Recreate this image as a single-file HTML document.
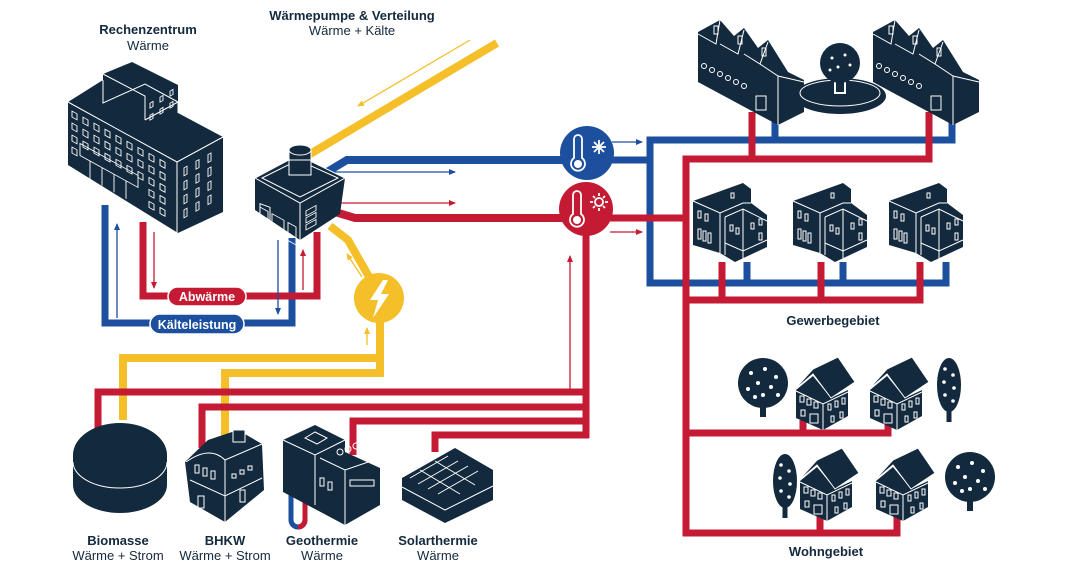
<!DOCTYPE html>
<html><head><meta charset="utf-8"><style>
html,body{margin:0;padding:0;background:#fff;}
svg{display:block;font-family:"Liberation Sans",sans-serif;}
.b{font-weight:bold;font-size:13px;fill:#13293d;}
.n{font-size:13px;fill:#13293d;}
</style></head><body>
<svg width="1079" height="573" viewBox="0 0 1079 573" xmlns="http://www.w3.org/2000/svg">
<defs>
<marker id="ab" markerWidth="8" markerHeight="8" refX="6" refY="3" orient="auto" markerUnits="userSpaceOnUse"><path d="M0,0 L7,3 L0,6 z" fill="#1d4f9f"/></marker>
<marker id="ar" markerWidth="8" markerHeight="8" refX="6" refY="3" orient="auto" markerUnits="userSpaceOnUse"><path d="M0,0 L7,3 L0,6 z" fill="#c41a33"/></marker>
<marker id="ay" markerWidth="8" markerHeight="8" refX="6" refY="3" orient="auto" markerUnits="userSpaceOnUse"><path d="M0,0 L7,3 L0,6 z" fill="#f5bf2a"/></marker>
<g id="gw">
 <polygon points="0,18 50,0 58,6 58,20 74,32 74,64 42,79 27,70 0,62" fill="#13293d"/>
 <g fill="none" stroke="#fff" stroke-width="1">
  <polyline points="0,18 27,30 50,20 58,20"/>
  <polyline points="27,30 27,70"/>
  <polyline points="32,34 50,26 74,38"/>
  <polyline points="50,26 50,79"/>
  <polyline points="32,34 32,72"/>
  <polyline points="32,60 50,68 74,57"/>
  <rect x="5" y="28" width="3" height="7"/><rect x="12" y="31" width="3" height="7"/>
  <rect x="5" y="46" width="3" height="10"/><rect x="10" y="48" width="3" height="10"/><rect x="15" y="50" width="3" height="10"/>
  <rect x="37" y="42" width="3" height="6"/><rect x="43" y="45" width="3" height="6"/>
  <rect x="58" y="40" width="3" height="6"/><rect x="66" y="36" width="3" height="6"/><rect x="66" y="50" width="3" height="7"/>
  <rect x="38" y="10" width="3" height="5"/>
 </g>
</g>
<g id="hs">
 <polygon points="3,30 3,58 30,70 55,56 55,30 38,38 20,16" fill="#13293d"/>
 <polygon points="0,31 20,9 45,-3 62,22 38,38 20,14" fill="#13293d" stroke="#fff" stroke-width="1"/>
 <g fill="none" stroke="#fff" stroke-width="1">
  <polyline points="3,31 30,44 55,32"/><line x1="30" y1="44" x2="30" y2="70"/>
  <rect x="7" y="36" width="4" height="6"/><rect x="14" y="39" width="4" height="6"/><rect x="21" y="42" width="4" height="6"/>
  <rect x="8" y="50" width="4" height="6"/><rect x="17" y="54" width="8" height="9"/>
  <rect x="35" y="44" width="3" height="6"/><rect x="42" y="41" width="3" height="6"/><rect x="49" y="38" width="3" height="6"/>
  <rect x="38" y="56" width="3" height="6"/><rect x="47" y="52" width="3" height="6"/>
 </g>
</g>
<g id="rt">
 <circle cx="0" cy="0" r="25" fill="#13293d"/>
 <rect x="-3" y="18" width="6" height="16" fill="#13293d"/>
 <g fill="#fff"><circle cx="-12" cy="-10" r="2"/><circle cx="2" cy="-14" r="2"/><circle cx="13" cy="-6" r="2"/><circle cx="-5" cy="0" r="2"/><circle cx="8" cy="4" r="2"/><circle cx="-15" cy="6" r="2"/><circle cx="0" cy="12" r="2"/><circle cx="15" cy="12" r="2"/><circle cx="-8" cy="14" r="2"/></g>
</g>
<g id="tt">
 <ellipse cx="0" cy="0" rx="12" ry="27" fill="#13293d"/>
 <rect x="-2.5" y="20" width="5" height="17" fill="#13293d"/>
 <g fill="#fff"><circle cx="-4" cy="-16" r="1.8"/><circle cx="4" cy="-10" r="1.8"/><circle cx="-5" cy="-3" r="1.8"/><circle cx="5" cy="3" r="1.8"/><circle cx="-4" cy="10" r="1.8"/><circle cx="4" cy="16" r="1.8"/></g>
</g>
<g id="fac">
 <path d="M0,40 L0,62 L80,105 L106,92 L106,60 L90,52 L70,20 L60,28 L46,8 L36,16 L22,0 L0,12 Z" fill="#13293d"/>
 <g fill="none" stroke="#fff" stroke-width="1">
  <polyline points="0,14 18,24 22,0"/><polyline points="22,24 40,34 46,10"/><polyline points="46,34 62,44 70,22"/>
  <polyline points="62,44 80,56 106,62"/><line x1="80" y1="56" x2="80" y2="105"/>
  <rect x="16" y="6" width="4" height="8"/><rect x="40" y="16" width="4" height="8"/><rect x="64" y="28" width="4" height="8"/>
  <circle cx="6" cy="46" r="2.5"/><circle cx="14" cy="50" r="2.5"/><circle cx="22" cy="54" r="2.5"/><circle cx="30" cy="58" r="2.5"/><circle cx="38" cy="62" r="2.5"/><circle cx="46" cy="66" r="2.5"/>
  <rect x="58" y="76" width="10" height="14"/>
 </g>
</g>
</defs>

<!-- titles -->
<text x="148" y="34" text-anchor="middle" class="b">Rechenzentrum</text>
<text x="148" y="50" text-anchor="middle" class="n">Wärme</text>
<text x="352" y="20" text-anchor="middle" class="b">Wärmepumpe &amp; Verteilung</text>
<text x="352" y="35" text-anchor="middle" class="n">Wärme + Kälte</text>

<!-- yellow input -->
<line x1="497" y1="43" x2="305" y2="157" stroke="#f5bf2a" stroke-width="8"/>
<line x1="470" y1="40" x2="358" y2="106" stroke="#f5bf2a" stroke-width="1.3" marker-end="url(#ay)"/>

<!-- Abwärme / Kälte loops -->
<polyline points="105,205 105,323 292,323 292,238" fill="none" stroke="#1d4f9f" stroke-width="7"/>
<polyline points="143,222 143,296 317,296 317,232" fill="none" stroke="#c41a33" stroke-width="7"/>
<line x1="117" y1="318" x2="117" y2="224" stroke="#1d4f9f" stroke-width="1.3" marker-end="url(#ab)"/>
<line x1="278" y1="240" x2="278" y2="314" stroke="#1d4f9f" stroke-width="1.3" marker-end="url(#ab)"/>
<line x1="154" y1="232" x2="154" y2="288" stroke="#c41a33" stroke-width="1.3" marker-end="url(#ar)"/>
<line x1="303" y1="290" x2="303" y2="250" stroke="#c41a33" stroke-width="1.3" marker-end="url(#ar)"/>
<rect x="168" y="287" width="78" height="19" rx="9.5" fill="#c41a33" stroke="#fff" stroke-width="1.5"/>
<text x="207" y="301" text-anchor="middle" font-size="12.5" font-weight="bold" fill="#fff">Abwärme</text>
<rect x="150" y="314" width="94" height="20" rx="10" fill="#1d4f9f" stroke="#fff" stroke-width="1.5"/>
<text x="197" y="329" text-anchor="middle" font-size="12.5" font-weight="bold" fill="#fff">Kälteleistung</text>

<!-- Rechenzentrum building -->
<polygon points="68,102 103,80 103,74 132,62 178,85 178,113 223,137 223,212 178,233 68,165" fill="#13293d"/>
<g fill="none" stroke="#fff" stroke-width="1">
 <polyline points="68,102 177,162 223,137"/><line x1="177" y1="162" x2="177" y2="233"/>
 <polyline points="103,80 103,103 145,84 178,102"/><polyline points="103,74 145,96 145,120"/>
 <polyline points="145,120 178,102 178,113"/>
</g>
<g transform="matrix(1,0.55,0,1,70,108)" fill="none" stroke="#fff" stroke-width="0.9">
 <rect x="2" y="2" width="5" height="6"/><rect x="13" y="2" width="5" height="6"/><rect x="24" y="2" width="5" height="6"/><rect x="35" y="2" width="5" height="6"/><rect x="46" y="2" width="5" height="6"/><rect x="57" y="2" width="5" height="6"/><rect x="68" y="2" width="5" height="6"/><rect x="79" y="2" width="5" height="6"/><rect x="90" y="2" width="5" height="6"/>
 <rect x="2" y="14" width="5" height="6"/><rect x="13" y="14" width="5" height="6"/><rect x="24" y="14" width="5" height="6"/><rect x="35" y="14" width="5" height="6"/><rect x="46" y="14" width="5" height="6"/><rect x="57" y="14" width="5" height="6"/><rect x="68" y="14" width="5" height="6"/><rect x="79" y="14" width="5" height="6"/><rect x="90" y="14" width="5" height="6"/>
 <rect x="2" y="26" width="5" height="6"/><rect x="13" y="26" width="5" height="6"/><rect x="24" y="26" width="5" height="6"/><rect x="35" y="26" width="5" height="6"/><rect x="46" y="26" width="5" height="6"/><rect x="57" y="26" width="5" height="6"/><rect x="68" y="26" width="5" height="6"/><rect x="79" y="26" width="5" height="6"/><rect x="90" y="26" width="5" height="6"/>
 <rect x="2" y="38" width="5" height="6"/><rect x="79" y="38" width="5" height="6"/><rect x="90" y="38" width="5" height="6"/>
 <rect x="79" y="50" width="5" height="6"/><rect x="90" y="50" width="5" height="6"/>
 <rect x="10" y="30" width="58" height="12"/>
 <line x1="20" y1="42" x2="20" y2="60"/><line x1="32" y1="42" x2="32" y2="60"/><line x1="44" y1="42" x2="44" y2="60"/><line x1="56" y1="42" x2="56" y2="60"/>
</g>
<g transform="matrix(1,-0.55,0,1,180,170)" fill="none" stroke="#fff" stroke-width="0.9">
 <rect x="4" y="0" width="3" height="8"/><rect x="16" y="0" width="3" height="8"/><rect x="28" y="0" width="3" height="8"/>
 <rect x="4" y="14" width="3" height="8"/><rect x="16" y="14" width="3" height="8"/><rect x="28" y="14" width="3" height="8"/>
 <rect x="4" y="28" width="3" height="8"/><rect x="16" y="28" width="3" height="8"/><rect x="28" y="28" width="3" height="8"/>
 <rect x="4" y="42" width="3" height="8"/><rect x="16" y="42" width="3" height="8"/><rect x="28" y="42" width="3" height="8"/>
</g>
<g transform="matrix(1,-0.6,0,1,147,103)" fill="none" stroke="#fff" stroke-width="0.9">
 <rect x="3" y="2" width="3" height="5"/><rect x="13" y="2" width="3" height="5"/><rect x="23" y="2" width="3" height="5"/>
 <rect x="3" y="14" width="3" height="5"/><rect x="13" y="14" width="3" height="5"/><rect x="23" y="14" width="3" height="5"/>
</g>

<!-- heat pump output lines -->
<polyline points="327,172 347,160 588,160" fill="none" stroke="#1d4f9f" stroke-width="8"/>
<polyline points="335,212 355,218 586,218" fill="none" stroke="#c41a33" stroke-width="8"/>
<line x1="332" y1="172" x2="455" y2="172" stroke="#1d4f9f" stroke-width="1.3" marker-end="url(#ab)"/>
<line x1="332" y1="203" x2="455" y2="203" stroke="#c41a33" stroke-width="1.3" marker-end="url(#ar)"/>
<polyline points="330,226 348,240 372,282" fill="none" stroke="#f5bf2a" stroke-width="8"/>
<line x1="362" y1="277" x2="347" y2="254" stroke="#f5bf2a" stroke-width="1.3" marker-end="url(#ay)"/>

<!-- heat pump -->
<polygon points="255,178 298,155 345,178 340,214 300,240 255,210" fill="#13293d"/>
<g fill="none" stroke="#fff" stroke-width="1">
 <polygon points="255,178 298,155 345,178 300,203"/>
 <polygon points="262,178 298,160 338,178 300,197"/>
 <line x1="300" y1="203" x2="300" y2="240"/>
 <rect x="260" y="204" width="10" height="20" transform="skewY(20) translate(0,-95)"/>
</g>
<g transform="matrix(1,0.55,0,1,258,206)" fill="none" stroke="#fff" stroke-width="0.9">
 <rect x="2" y="0" width="8" height="18"/><rect x="14" y="0" width="12" height="20"/><rect x="30" y="0" width="8" height="18"/>
</g>
<g transform="matrix(1,-0.55,0,1,304,230)" fill="none" stroke="#fff" stroke-width="0.9">
 <rect x="2" y="-18" width="10" height="5"/><rect x="2" y="-11" width="10" height="5"/><rect x="2" y="-4" width="10" height="5"/>
</g>
<rect x="289" y="150" width="22" height="25" fill="#13293d" stroke="#fff" stroke-width="1"/>
<ellipse cx="300" cy="150" rx="11" ry="5" fill="#13293d" stroke="#fff" stroke-width="1"/>
<line x1="289" y1="160" x2="311" y2="160" stroke="#fff" stroke-width="1"/>

<!-- lightning -->
<polyline points="380,322 380,373" stroke="#f5bf2a" stroke-width="8" fill="none"/>
<circle cx="379" cy="298" r="25" fill="#f5bf2a"/>
<polygon points="383,280 370,300 378,300 373,318 389,294 381,294 388,280" fill="#fff"/>
<line x1="367" y1="345" x2="367" y2="328" stroke="#f5bf2a" stroke-width="1.3" marker-end="url(#ay)"/>

<!-- yellow bottom -->
<polyline points="123,420 123,358 384,358" fill="none" stroke="#f5bf2a" stroke-width="8"/>
<polyline points="225,437 225,373 384,373" fill="none" stroke="#f5bf2a" stroke-width="8"/>

<!-- red bottom collectors -->
<g fill="none" stroke="#c41a33" stroke-width="7">
 <polyline points="98,428 98,392 589,392"/>
 <polyline points="202,448 202,407 589,407"/>
 <polyline points="353,455 353,421 589,421"/>
 <polyline points="435,452 435,435 589,435"/>
 <line x1="586" y1="232" x2="586" y2="438"/>
</g>
<line x1="570" y1="390" x2="570" y2="256" stroke="#c41a33" stroke-width="1.3" marker-end="url(#ar)"/>

<!-- Biomasse -->
<path d="M73,455 L73,485 A47,28 0 0 0 167,485 L167,455 Z" fill="#13293d"/>
<ellipse cx="120" cy="455" rx="47" ry="32" fill="#13293d"/>
<path d="M73,462 A47,26 0 0 0 167,462" fill="none" stroke="#fff" stroke-width="1"/>

<!-- BHKW -->
<polygon points="185,462 208,440 238,430 262,444 264,490 225,522 190,502" fill="#13293d"/>
<g fill="none" stroke="#fff" stroke-width="1">
 <path d="M186,462 Q210,445 225,460 L262,444"/>
 <polyline points="190,480 225,496 262,478"/>
 <line x1="225" y1="460" x2="225" y2="522"/>
 <rect x="195" y="465" width="4" height="8"/><rect x="203" y="468" width="4" height="8"/><rect x="211" y="471" width="4" height="8"/>
 <rect x="232" y="474" width="4" height="4"/><rect x="240" y="470" width="4" height="4"/><rect x="248" y="466" width="4" height="4"/>
 <rect x="198" y="496" width="6" height="12"/><rect x="240" y="490" width="5" height="12"/>
</g>
<rect x="233" y="430" width="12" height="12" fill="#13293d" stroke="#fff" stroke-width="1"/>

<!-- Geothermie -->
<path d="M291,478 L291,520 A7,7 0 0 0 305,520 L305,478" fill="none" stroke="#1d4f9f" stroke-width="5"/>
<path d="M298,527 A7,7 0 0 0 305,520 L305,478" fill="none" stroke="#c41a33" stroke-width="5"/>
<polygon points="283,440 315,425 345,440 345,452 380,468 380,505 345,525 283,492" fill="#13293d"/>
<g fill="none" stroke="#fff" stroke-width="1">
 <polyline points="283,440 315,455 345,440"/><line x1="315" y1="455" x2="315" y2="505"/>
 <polygon points="305,438 315,432 327,438 317,444"/>
 <polyline points="320,458 345,470 380,458"/><line x1="345" y1="470" x2="345" y2="525"/>
 <circle cx="340" cy="452" r="3"/><circle cx="348" cy="449" r="3"/><circle cx="356" cy="446" r="3"/>
 <rect x="350" y="480" width="24" height="6"/><rect x="320" y="478" width="4" height="8"/><rect x="328" y="482" width="4" height="8"/>
</g>

<!-- Solarthermie -->
<polygon points="402,478 455,448 493,470 493,500 445,523 402,500" fill="#13293d"/>
<g stroke="#fff" stroke-width="1" fill="none">
 <line x1="410" y1="478" x2="448" y2="456"/><line x1="418" y1="484" x2="458" y2="461"/><line x1="428" y1="489" x2="468" y2="466"/><line x1="438" y1="494" x2="478" y2="471"/>
 <line x1="420" y1="470" x2="460" y2="494"/><line x1="435" y1="461" x2="475" y2="485"/>
 <polyline points="402,487 445,510 493,486"/>
</g>

<text x="118" y="545" text-anchor="middle" class="b">Biomasse</text>
<text x="118" y="560" text-anchor="middle" class="n">Wärme + Strom</text>
<text x="225" y="545" text-anchor="middle" class="b">BHKW</text>
<text x="225" y="560" text-anchor="middle" class="n">Wärme + Strom</text>
<text x="322" y="545" text-anchor="middle" class="b">Geothermie</text>
<text x="322" y="560" text-anchor="middle" class="n">Wärme</text>
<text x="438" y="545" text-anchor="middle" class="b">Solarthermie</text>
<text x="438" y="560" text-anchor="middle" class="n">Wärme</text>

<!-- right network -->
<g fill="none" stroke-width="7">
 <polyline points="588,160 650,160" stroke="#1d4f9f"/>
 <polyline points="775,120 775,140 650,140 650,283 946,283 946,262" stroke="#1d4f9f"/>
 <polyline points="952,120 952,140 775,140" stroke="#1d4f9f"/>
 <line x1="747" y1="262" x2="747" y2="283" stroke="#1d4f9f"/>
 <line x1="843" y1="262" x2="843" y2="283" stroke="#1d4f9f"/>
 <polyline points="586,218 686,218" stroke="#c41a33"/>
 <polyline points="752,112 752,159 686,159 686,533 897,533 897,512" stroke="#c41a33"/>
 <polyline points="929,112 929,159 752,159" stroke="#c41a33"/>
 <polyline points="686,300 920,300 920,262" stroke="#c41a33"/>
 <line x1="722" y1="262" x2="722" y2="300" stroke="#c41a33"/>
 <line x1="821" y1="262" x2="821" y2="300" stroke="#c41a33"/>
 <polyline points="686,433 888,433 888,420" stroke="#c41a33"/>
 <line x1="803" y1="420" x2="803" y2="433" stroke="#c41a33"/>
 <line x1="820" y1="512" x2="820" y2="533" stroke="#c41a33"/>
</g>
<line x1="612" y1="142" x2="642" y2="142" stroke="#1d4f9f" stroke-width="1.3" marker-end="url(#ab)"/>
<line x1="610" y1="232" x2="642" y2="232" stroke="#c41a33" stroke-width="1.3" marker-end="url(#ar)"/>

<!-- thermometer circles -->
<circle cx="587" cy="153" r="27" fill="#1d4f9f"/>
<circle cx="586" cy="209" r="27" fill="#c41a33"/>
<g fill="none" stroke="#fff" stroke-width="1.8">
 <path d="M574,158 L574,139 A4,4 0 0 1 582,139 L582,158 A7,7 0 1 1 574,158 Z"/>
 <path d="M573,214 L573,195 A4,4 0 0 1 581,195 L581,214 A7,7 0 1 1 573,214 Z"/>
 <line x1="592" y1="147" x2="606" y2="147"/><line x1="599" y1="140" x2="599" y2="154"/><line x1="594" y1="142" x2="604" y2="152"/><line x1="604" y1="142" x2="594" y2="152"/>
 <circle cx="599" cy="202" r="4"/>
 <line x1="599" y1="193" x2="599" y2="196"/><line x1="599" y1="208" x2="599" y2="211"/><line x1="590" y1="202" x2="593" y2="202"/><line x1="605" y1="202" x2="608" y2="202"/>
 <line x1="593" y1="196" x2="595" y2="198"/><line x1="603" y1="206" x2="605" y2="208"/><line x1="605" y1="196" x2="603" y2="198"/><line x1="593" y1="208" x2="595" y2="206"/>
</g>
<circle cx="578" cy="164" r="4" fill="#fff"/><circle cx="577" cy="220" r="4" fill="#fff"/>

<!-- factories & fountain -->
<use href="#fac" x="698" y="20"/>
<use href="#fac" x="873" y="20"/>
<ellipse cx="840" cy="96" rx="46" ry="18" fill="#13293d"/>
<ellipse cx="840" cy="93" rx="40" ry="13" fill="none" stroke="#fff" stroke-width="1"/>
<rect x="834" y="78" width="12" height="16" fill="#fff"/>
<rect x="836" y="78" width="8" height="14" fill="#13293d"/>
<circle cx="840" cy="63" r="20" fill="#13293d"/>
<g fill="#fff"><circle cx="832" cy="58" r="1.5"/><circle cx="845" cy="55" r="1.5"/><circle cx="838" cy="67" r="1.5"/><circle cx="850" cy="65" r="1.5"/><circle cx="830" cy="70" r="1.5"/></g>

<!-- Gewerbe houses -->
<use href="#gw" x="693" y="183"/>
<use href="#gw" x="793" y="183"/>
<use href="#gw" x="889" y="183"/>
<text x="833" y="325" text-anchor="middle" class="b">Gewerbegebiet</text>

<!-- Wohn -->
<use href="#rt" x="763" y="383"/>
<use href="#hs" x="793" y="360"/>
<use href="#hs" x="867" y="360"/>
<use href="#tt" x="949" y="385"/>
<use href="#tt" x="785" y="481"/>
<use href="#hs" x="797" y="451"/>
<use href="#hs" x="873" y="451"/>
<use href="#rt" x="970" y="477"/>
<text x="826" y="556" text-anchor="middle" class="b">Wohngebiet</text>
</svg>
</body></html>
